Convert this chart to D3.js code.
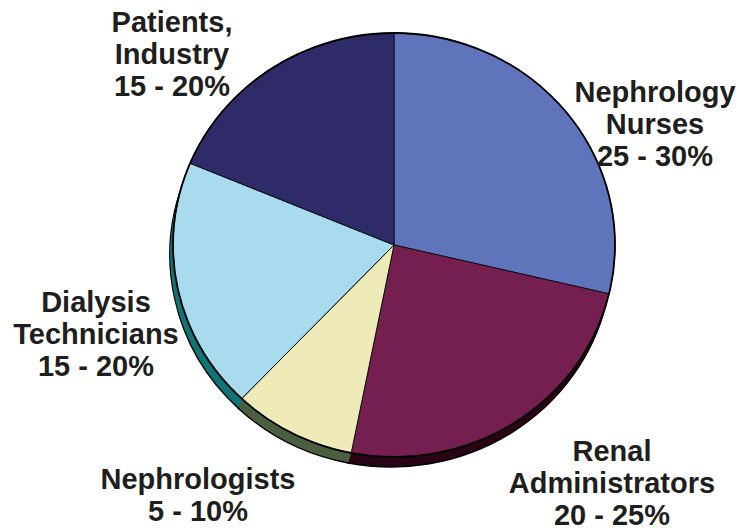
<!doctype html>
<html>
<head>
<style>
  body { margin: 0; background: #fff; }
  .lbl { font-family: "Liberation Sans", Arial, sans-serif; font-weight: bold; font-size: 29px; fill: #1e1e1e; }
</style>
<script src="https://d3js.org/d3.v7.min.js"></script>
</head>
<body>
<svg width="736" height="531"></svg>
<script>
// slices clockwise from 12 o'clock
var groups  = ["Nephrology Nurses", "Renal Administrators", "Nephrologists", "Dialysis Technicians", "Patients, Industry"];
var shares  = [28.7, 24.4, 9.0, 19.2, 18.7];        // angle share
var ranges  = ["25 - 30%", "20 - 25%", "5 - 10%", "15 - 20%", "15 - 20%"];
var labelLines = [["Nephrology", "Nurses"], ["Renal", "Administrators"], ["Nephrologists"], ["Dialysis", "Technicians"], ["Patients,", "Industry"]];
var topColors  = ["#5f74bb", "#741f50", "#efebb8", "#a8dbee", "#2e2b68"];
var sideColors = ["#1c2458", "#2a0515", "#4c5f40", "#107575", "#15133a"];

// label anchor (centre x, first baseline y)
var labelAt = [[655, 102], [612, 461], [198, 489], [96, 312], [172, 32]];

var svg = d3.select("svg");
var cx = 394, cy = 245, rx = 221, ry = 212, depth = 10, shiftX = -3;

var pie = d3.pie().sort(null).value(function(d) { return d; });
var arcs = pie(shares);
var arc = d3.arc().innerRadius(0).outerRadius(rx);

function layer(t) {
  return svg.append("g")
    .attr("transform", "translate(" + (cx + shiftX * t) + "," + (cy + depth * t) + ") scale(1," + (ry / rx) + ")");
}

// extruded sides: stacked copies, bottom one outlined
for (var k = 10; k >= 1; k--) {
  var g = layer(k / 10);
  g.selectAll("path")
    .data(arcs)
    .enter().append("path")
    .attr("d", arc)
    .attr("fill", function(d, i) { return sideColors[i]; })
    .attr("stroke", k == 10 ? "#000" : "none")
    .attr("stroke-width", 1.5)
    .attr("vector-effect", "non-scaling-stroke");
}

// top face
var face = layer(0);
face.selectAll("path")
  .data(arcs)
  .enter().append("path")
  .attr("d", arc)
  .attr("fill", function(d, i) { return topColors[i]; })
  .attr("stroke", "#111")
  .attr("stroke-width", 1)
  .attr("vector-effect", "non-scaling-stroke");

face.append("ellipse")
  .attr("rx", rx).attr("ry", rx)
  .attr("fill", "none")
  .attr("stroke", "#000")
  .attr("stroke-width", 1.8)
  .attr("vector-effect", "non-scaling-stroke");

// labels
groups.forEach(function(name, i) {
  var lines = labelLines[i].concat([ranges[i]]);
  var t = svg.append("text")
    .attr("class", "lbl")
    .attr("text-anchor", "middle")
    .attr("x", labelAt[i][0])
    .attr("y", labelAt[i][1]);
  lines.forEach(function(s, j) {
    t.append("tspan")
      .attr("x", labelAt[i][0])
      .attr("dy", j == 0 ? 0 : 32)
      .text(s);
  });
});
</script>
</body>
</html>
